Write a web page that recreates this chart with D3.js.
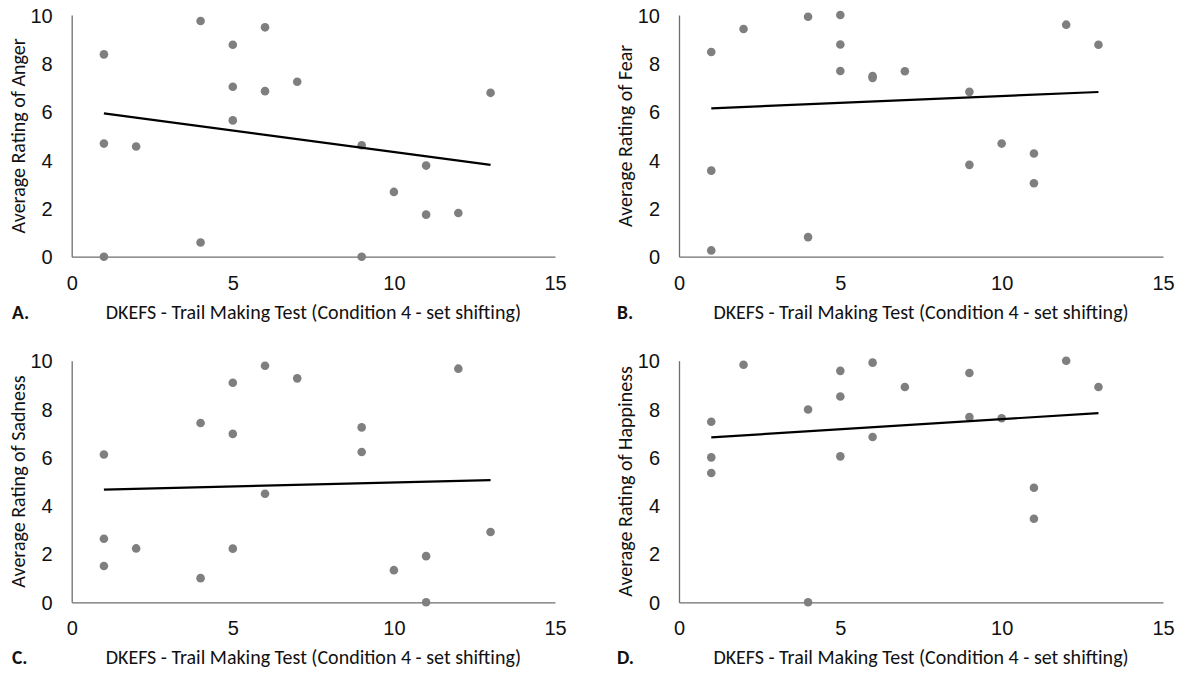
<!DOCTYPE html>
<html>
<head>
<meta charset="utf-8">
<script src="https://cdn.jsdelivr.net/npm/d3@7"></script>
<style>
  body { margin: 0; background: #fff; }
  svg { display: block; font-family: Carlito, Calibri, Lato, sans-serif; }
</style>
</head>
<body>
<svg id="chart" width="1183" height="674"></svg>
<script>
// trail making scores (shared by all four panels)
const trailScores = [1, 1, 1, 2, 4, 4, 5, 5, 5, 6, 6, 7, 9, 9, 10, 11, 11, 12, 13];

// average ratings per emotion, same order as trailScores
const anger     = [8.37, 4.68, 0, 4.56, 9.75, 0.59, 8.77, 7.03, 5.64, 9.49, 6.85, 7.24, 4.61, 0, 2.68, 3.77, 1.74, 1.81, 6.78];
const fear      = [8.47, 3.56, 0.26, 9.42, 9.93, 0.81, 10, 8.78, 7.68, 7.47, 7.40, 7.67, 6.82, 3.80, 4.68, 4.27, 3.04, 9.60, 8.77];
const sadness   = [6.12, 2.63, 1.50, 2.23, 7.42, 1.00, 9.09, 6.97, 2.22, 9.79, 4.49, 9.27, 7.24, 6.22, 1.33, 1.91, 0, 9.67, 2.91];
const happiness = [7.47, 6.00, 5.35, 9.83, 7.98, 0, 9.58, 8.52, 6.04, 9.92, 6.84, 8.91, 9.49, 7.67, 7.62, 4.74, 3.46, 10, 8.91];

const xTicks = [0, 5, 10, 15];
const yTicks = [0, 2, 4, 6, 8, 10];
const xTitle = "DKEFS - Trail Making Test (Condition 4 - set shifting)";

const panels = [
  { letter: "A.", yTitle: "Average Rating of Anger",     values: anger,     left: 71.7, right: 555,  top: 15,    bottom: 256.7, titleX: 18,  letterX: 12 },
  { letter: "B.", yTitle: "Average Rating of Fear",      values: fear,      left: 679,  right: 1163, top: 15,    bottom: 256.7, titleX: 625, letterX: 617 },
  { letter: "C.", yTitle: "Average Rating of Sadness",   values: sadness,   left: 71.7, right: 555,  top: 360.7, bottom: 602.3, titleX: 18,  letterX: 12 },
  { letter: "D.", yTitle: "Average Rating of Happiness", values: happiness, left: 679,  right: 1163, top: 360.7, bottom: 602.3, titleX: 625, letterX: 617 }
];

const svg = d3.select("#chart");

function fitLine(xs, ys) {
  const mx = d3.mean(xs), my = d3.mean(ys);
  let sxy = 0, sxx = 0;
  xs.forEach((x, i) => { sxy += (x - mx) * (ys[i] - my); sxx += (x - mx) * (x - mx); });
  const slope = sxy / sxx;
  return x => my + slope * (x - mx);
}

panels.forEach(p => {
  const g = svg.append("g");
  const x = d3.scaleLinear().domain([0, 15]).range([p.left, p.right]);
  const y = d3.scaleLinear().domain([0, 10]).range([p.bottom, p.top]);

  const xAxis = g.append("g")
    .attr("transform", `translate(0,${p.bottom})`)
    .call(d3.axisBottom(x).tickValues(xTicks).tickSize(0).tickSizeOuter(0));
  xAxis.selectAll("text").attr("y", 26).attr("dy", "0.35em");

  const yAxis = g.append("g")
    .attr("transform", `translate(${p.left},0)`)
    .call(d3.axisLeft(y).tickValues(yTicks).tickSize(0).tickSizeOuter(0).tickPadding(19));
  yAxis.selectAll("text").attr("dy", "0.35em");

  g.selectAll(".domain").attr("stroke", "#6e6e6e").attr("stroke-width", 1.3);
  g.selectAll(".tick text").attr("fill", "#111").style("font-size", "20px");
  g.selectAll(".tick line").remove();

  // points
  const pts = trailScores.map((s, i) => ({ s, v: p.values[i] }));
  g.selectAll("circle")
    .data(pts)
    .join("circle")
    .attr("cx", d => x(d.s))
    .attr("cy", d => y(d.v))
    .attr("r", 4.3)
    .attr("fill", "#7f7f7f");

  // linear trendline
  const f = fitLine(trailScores, p.values);
  const [x0, x1] = d3.extent(trailScores);
  g.append("line")
    .attr("x1", x(x0)).attr("y1", y(f(x0)))
    .attr("x2", x(x1)).attr("y2", y(f(x1)))
    .attr("stroke", "#000").attr("stroke-width", 2.2);

  // titles
  g.append("text")
    .attr("x", (p.left + p.right) / 2)
    .attr("y", p.bottom + 55)
    .attr("dy", "0.35em")
    .attr("text-anchor", "middle")
    .attr("fill", "#111")
    .style("font-size", "20px")
    .text(xTitle);

  g.append("text")
    .attr("transform", `translate(${p.titleX},${(p.top + p.bottom) / 2}) rotate(-90)`)
    .attr("dy", "0.35em")
    .attr("text-anchor", "middle")
    .attr("fill", "#111")
    .style("font-size", "20px")
    .text(p.yTitle);

  g.append("text")
    .attr("x", p.letterX)
    .attr("y", p.bottom + 55)
    .attr("dy", "0.35em")
    .attr("fill", "#111")
    .style("font-size", "19.5px")
    .style("font-weight", "bold")
    .text(p.letter);
});
</script>
</body>
</html>
